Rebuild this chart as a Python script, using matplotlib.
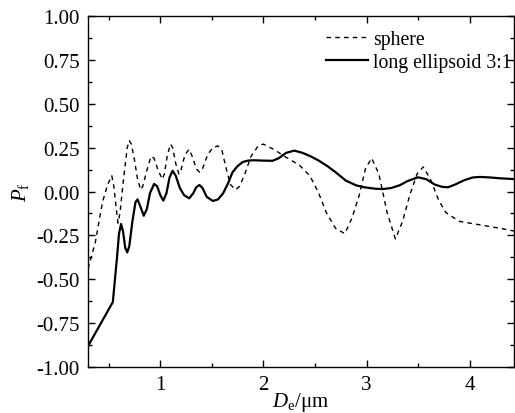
import matplotlib
matplotlib.use('Agg')
import matplotlib.pyplot as plt
from matplotlib.ticker import MultipleLocator, FixedLocator, FormatStrFormatter

plt.rcParams['font.family'] = ['Liberation Serif', 'DejaVu Serif']
plt.rcParams['mathtext.fontset'] = 'custom'
plt.rcParams['mathtext.rm'] = 'Liberation Serif'
plt.rcParams['mathtext.it'] = 'Liberation Serif:italic'

# sphere (dashed)
sphere_x = [0.30, 0.37, 0.44, 0.49, 0.53, 0.55, 0.57, 0.59, 0.61, 0.64, 0.68, 0.70, 0.72, 0.75,
            0.78, 0.81, 0.83, 0.87, 0.91, 0.94, 0.98, 1.02, 1.04, 1.07, 1.10, 1.12, 1.15,
            1.18, 1.20, 1.24, 1.28, 1.31, 1.35, 1.38, 1.41, 1.46, 1.51, 1.56, 1.60, 1.64,
            1.68, 1.73, 1.77, 1.82, 1.88, 1.95, 2.00, 2.10, 2.22, 2.35, 2.45, 2.53, 2.61,
            2.70, 2.79, 2.86, 2.93, 2.99, 3.05, 3.12, 3.20, 3.28, 3.35, 3.42, 3.49, 3.55,
            3.62, 3.70, 3.77, 3.90, 4.10, 4.30, 4.43]
sphere_y = [-0.44, -0.29, -0.06, 0.04, 0.09, 0.03, -0.08, -0.18, -0.12, 0.05, 0.25, 0.29, 0.27, 0.18,
            0.07, 0.01, 0.03, 0.12, 0.20, 0.19, 0.12, 0.07, 0.10, 0.21, 0.27, 0.25, 0.16,
            0.10, 0.12, 0.21, 0.24, 0.20, 0.13, 0.11, 0.13, 0.21, 0.25, 0.26, 0.23, 0.13,
            0.04, 0.01, 0.03, 0.10, 0.20, 0.26, 0.27, 0.24, 0.195, 0.15, 0.09, 0.00, -0.12,
            -0.21, -0.24, -0.15, -0.02, 0.13, 0.19, 0.10, -0.12, -0.27, -0.17, -0.02, 0.10, 0.14,
            0.07, -0.05, -0.12, -0.17, -0.19, -0.21, -0.225]

# long ellipsoid 3:1 (solid)
ell_x = [0.30, 0.54, 0.58, 0.60, 0.62, 0.64, 0.66, 0.68, 0.70, 0.73, 0.76, 0.78, 0.81,
         0.84, 0.87, 0.90, 0.94, 0.97, 1.00, 1.03, 1.06, 1.09, 1.12, 1.15, 1.19, 1.23,
         1.28, 1.32, 1.35, 1.38, 1.41, 1.45, 1.51, 1.56, 1.61, 1.66, 1.70, 1.75, 1.80,
         1.85, 1.90, 2.00, 2.09, 2.15, 2.22, 2.30, 2.38, 2.46, 2.54, 2.62, 2.70, 2.80,
         2.90, 2.98, 3.08, 3.16, 3.24, 3.32, 3.40, 3.50, 3.58, 3.66, 3.73, 3.79, 3.86,
         3.95, 4.03, 4.10, 4.20, 4.30, 4.43]
ell_y = [-0.88, -0.63, -0.38, -0.24, -0.185, -0.23, -0.32, -0.347, -0.31, -0.17, -0.06, -0.045, -0.09,
         -0.138, -0.10, -0.01, 0.043, 0.03, -0.02, -0.052, -0.01, 0.08, 0.118, 0.09, 0.02, -0.02,
         -0.039, -0.01, 0.025, 0.037, 0.02, -0.03, -0.054, -0.045, -0.01, 0.05, 0.109, 0.145, 0.168,
         0.176, 0.178, 0.176, 0.175, 0.19, 0.22, 0.233, 0.22, 0.20, 0.175, 0.145, 0.11, 0.062,
         0.035, 0.024, 0.016, 0.014, 0.02, 0.035, 0.06, 0.081, 0.07, 0.04, 0.027, 0.024, 0.04,
         0.065, 0.08, 0.083, 0.08, 0.075, 0.071]

fig = plt.figure(figsize=(5.15, 4.14), dpi=100)
ax = fig.add_axes([0.171, 0.111, 0.827, 0.848])

ax.plot(sphere_x, sphere_y, color='black', lw=1.0, ls=(0, (3.3, 3)), label='sphere')
ax.plot(ell_x, ell_y, color='black', lw=1.6, label='long ellipsoid 3:1')

ax.set_xlim(0.3, 4.43)
ax.set_ylim(-1.0, 1.0)
ax.xaxis.set_major_locator(FixedLocator([1, 2, 3, 4]))
ax.xaxis.set_minor_locator(MultipleLocator(0.5))
ax.yaxis.set_major_locator(MultipleLocator(0.25))
ax.yaxis.set_minor_locator(MultipleLocator(0.125))
ax.yaxis.set_major_formatter(FormatStrFormatter('%.2f'))
ax.tick_params(which='both', direction='in', top=True, right=True, labelsize=15, width=1.0)
ax.tick_params(which='major', length=5, pad=6)
ax.tick_params(which='minor', length=3)
for s in ax.spines.values():
    s.set_linewidth(1.0)

ax.set_xlabel(r'$D_{\mathrm{e}}$/μm', fontsize=15, va='center')
ax.xaxis.set_label_coords(0.5, -0.097)
ax.set_ylabel(r'$P_{\mathrm{f}}$', fontsize=15, labelpad=4)

ax.legend(loc='upper left', bbox_to_anchor=(0.532, 0.994), frameon=False, fontsize=14.2,
          handlelength=2.1, handletextpad=0.25, borderaxespad=0.2, labelspacing=0.2)

fig.savefig('out.png', dpi=100)
